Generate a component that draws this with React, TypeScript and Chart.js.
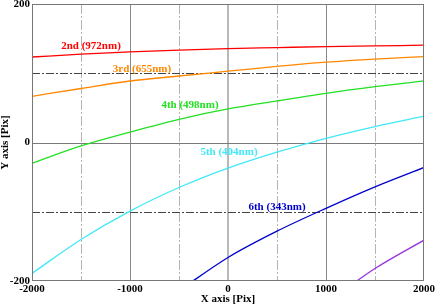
import React, { useEffect, useRef } from "react";
import { Chart, registerables } from "chart.js";

Chart.register(...registerables);

const xValues = [-2000, -1500, -1000, -500, 0, 500, 1000, 1500, 2000];
const order2 = [123.5, 127.5, 131, 133.5, 135.5, 137, 138.5, 139.5, 140.5];
const order3 = [66.7, 78, 88.8, 96, 103, 110, 116, 120.5, 124];
const order4 = [-30, -5, 15, 33.5, 48.4, 60, 71, 80.6, 89];
const order5 = [-189, -140, -99, -65, -37, -14, 6, 23, 38];
const order6 = [null, null, null, -214, -166, -128, -95, -64, -36];
const order7 = [null, null, null, null, null, null, -232, -182, -141];

const seriesNames = ["2nd (972nm)", "3rd (655nm)", "4th (498nm)", "5th (404nm)", "6th (343nm)", "7th"];
const seriesColors = ["#ff0000", "#ff8800", "#22e022", "#40e8f8", "#0000cc", "#9933dd"];
const labelX = [-1398, -878, -388, 10, 500];
const labelY = [139, 106, 54, -14, -93];

const xTickLabels = [-2000, -1000, 0, 1000, 2000];
const yTickLabels = [-200, 0, 200];

const FONT = "'Liberation Serif', 'DejaVu Serif', serif";

export default function App() {
  const ref = useRef<HTMLCanvasElement | null>(null);
  useEffect(() => {
    document.body.style.margin = "0";
    const seriesData = [order2, order3, order4, order5, order6, order7];
    const gridPlugin = {
      id: "customGrid",
      beforeDatasetsDraw(chart: any) {
        const { ctx, chartArea: a, scales } = chart;
        const xs = scales.x;
        const ys = scales.y;
        ctx.save();
        [-1500, -1000, -500, 0, 500, 1000, 1500].forEach((v) => {
          let px = Math.round(xs.getPixelForValue(v)) + 0.5;
          ctx.beginPath();
          if (v === 0) {
            px = Math.round(xs.getPixelForValue(v));
            ctx.strokeStyle = "#b8b8b8";
            ctx.lineWidth = 2;
            ctx.setLineDash([]);
          } else if (v % 1000 === 0) {
            ctx.strokeStyle = "#8a8a8a";
            ctx.lineWidth = 1;
            ctx.setLineDash([]);
          } else {
            ctx.strokeStyle = "#b4b4b4";
            ctx.lineWidth = 1;
            ctx.setLineDash([10, 2, 2, 2]);
          }
          ctx.moveTo(px, a.top);
          ctx.lineTo(px, a.bottom);
          ctx.stroke();
        });
        [-100, 0, 100].forEach((v) => {
          const py = Math.round(ys.getPixelForValue(v)) + 0.5;
          ctx.beginPath();
          if (v === 0) {
            ctx.strokeStyle = "#7a7a7a";
            ctx.setLineDash([]);
          } else {
            ctx.strokeStyle = "#444444";
            ctx.setLineDash([8, 2, 2, 2]);
          }
          ctx.lineWidth = 1;
          ctx.moveTo(a.left, py);
          ctx.lineTo(a.right, py);
          ctx.stroke();
        });
        ctx.restore();
      },
      afterDatasetsDraw(chart: any) {
        const { ctx, chartArea: a, scales } = chart;
        ctx.save();
        ctx.font = `bold 11px ${FONT}`;
        ctx.textAlign = "center";
        ctx.textBaseline = "middle";
        labelX.forEach((lx, i) => {
          ctx.fillStyle = seriesColors[i];
          ctx.fillText(seriesNames[i], scales.x.getPixelForValue(lx), scales.y.getPixelForValue(labelY[i]));
        });
        ctx.strokeStyle = "#777777";
        ctx.lineWidth = 1;
        ctx.setLineDash([]);
        ctx.strokeRect(a.left + 0.5, a.top + 0.5, a.right - a.left - 1, a.bottom - a.top - 1);
        ctx.restore();
      },
    };

    const chart = new Chart(ref.current as HTMLCanvasElement, {
      type: "line",
      data: {
        labels: xValues,
        datasets: seriesData.map((d, i) => ({
          label: seriesNames[i],
          data: d.map((y, j) => ({ x: xValues[j], y })),
          borderColor: seriesColors[i],
          borderWidth: 1.3,
          pointRadius: 0,
          fill: false,
          cubicInterpolationMode: "monotone" as const,
          spanGaps: false,
        })),
      },
      options: {
        responsive: false,
        animation: false,
        layout: { padding: { top: 4, right: 12, left: 0, bottom: 0 } },
        plugins: { legend: { display: false }, tooltip: { enabled: false } },
        scales: {
          x: {
            type: "linear",
            min: -2000,
            max: 2000,
            grid: { display: false, drawTicks: false },
            border: { display: false },
            ticks: {
              stepSize: 500,
              autoSkip: false,
              maxRotation: 0,
              padding: 2,
              color: "#000",
              font: { family: FONT, size: 11, weight: "bold" },
              callback: (v: any) => (xTickLabels.includes(Number(v)) ? String(v) : ""),
            },
            title: {
              display: true,
              text: "X axis [Pix]",
              color: "#000",
              font: { family: FONT, size: 11, weight: "bold" },
              padding: 0,
            },
            afterFit: (s: any) => {
              s.height = 25;
              s.paddingLeft = 0;
              s.paddingRight = 0;
              s.paddingTop = 0;
              s.paddingBottom = 0;
            },
          },
          y: {
            type: "linear",
            min: -200,
            max: 200,
            grid: { display: false, drawTicks: false },
            border: { display: false },
            ticks: {
              stepSize: 100,
              autoSkip: false,
              padding: 2,
              color: "#000",
              font: { family: FONT, size: 11, weight: "bold" },
              callback: (v: any) => (yTickLabels.includes(Number(v)) ? String(v) : ""),
            },
            title: {
              display: true,
              text: "Y axis [Pix]",
              color: "#000",
              font: { family: FONT, size: 11, weight: "bold" },
              padding: { top: -1, bottom: 0 },
            },
            afterFit: (s: any) => {
              s.width = 32;
              s.paddingLeft = 0;
              s.paddingRight = 0;
              s.paddingTop = 0;
              s.paddingBottom = 0;
            },
          },
        },
      },
      plugins: [gridPlugin],
    } as any);
    return () => chart.destroy();
  }, []);
  return (
    <div style={{ width: 436, height: 306 }}>
      <canvas ref={ref} width={436} height={306} />
    </div>
  );
}
